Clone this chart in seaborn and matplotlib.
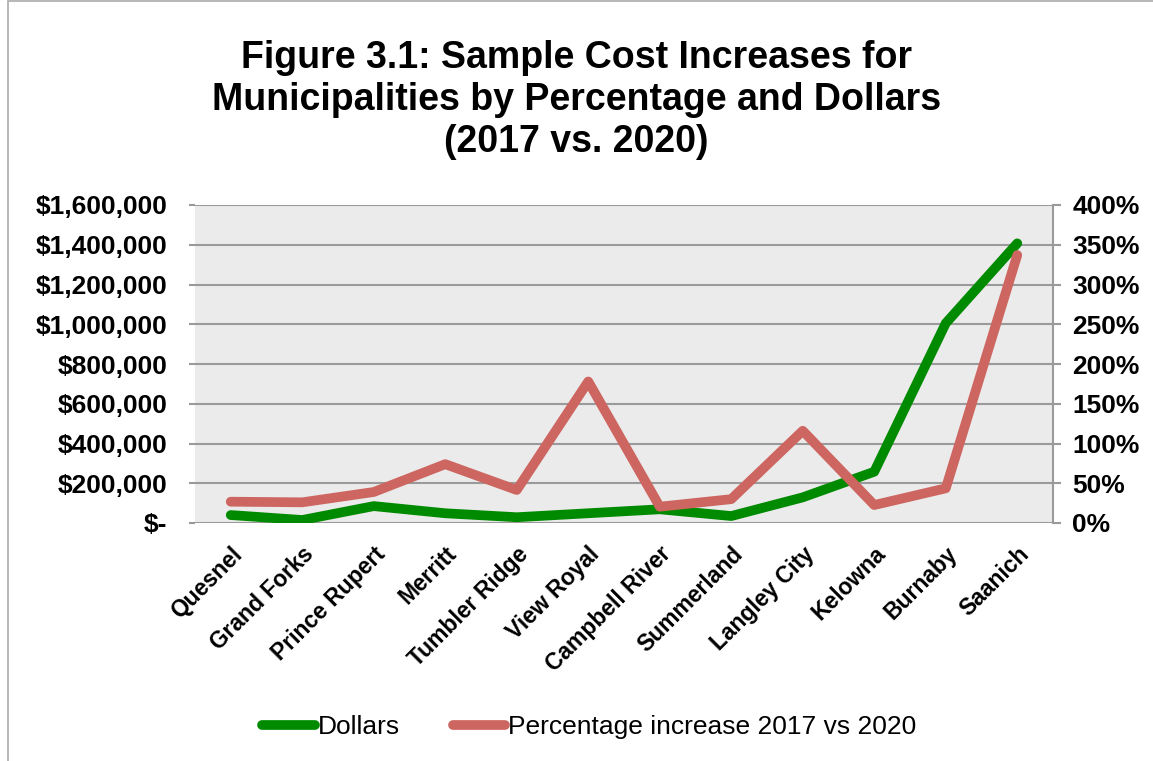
import matplotlib
matplotlib.use("Agg")
import matplotlib.pyplot as plt
import matplotlib.patches as mpatches
import seaborn as sns
import pandas as pd
from matplotlib.ticker import FuncFormatter, MultipleLocator

# -----------------------------
# Data
# -----------------------------
municipalities = [
    "Quesnel", "Grand Forks", "Prince Rupert", "Merritt", "Tumbler Ridge",
    "View Royal", "Campbell River", "Summerland", "Langley City", "Kelowna",
    "Burnaby", "Saanich",
]
dollars = [40000, 15000, 85000, 49000, 29000, 49000, 69000, 35000,
           129000, 258000, 1005000, 1407000]
pct_increase = [26.8, 26, 39, 74, 41.5, 178, 20.5, 30, 116, 22.6, 43.6, 337]

df = pd.DataFrame({
    "Municipality": municipalities,
    "Dollars": dollars,
    "Percent": pct_increase,
})
df["x"] = range(len(df))

green = "#008A00"
red = "#CD6660"

sns.set_style("white")
plt.rcParams["font.family"] = ["Liberation Sans", "DejaVu Sans"]
plt.rcParams["text.color"] = "black"
plt.rcParams["xtick.color"] = "black"
plt.rcParams["ytick.color"] = "black"

fig = plt.figure(figsize=(11.53, 7.61), dpi=100)
ax = fig.add_axes([195 / 1153, 1 - 523 / 761, 858 / 1153, 318 / 761])
ax2 = ax.twinx()

# -----------------------------
# Lines
# -----------------------------
sns.lineplot(data=df, x="x", y="Dollars", ax=ax, color=green,
             linewidth=7, solid_capstyle="round", legend=False)
sns.lineplot(data=df, x="x", y="Percent", ax=ax2, color=red,
             linewidth=7, solid_capstyle="round", legend=False)

ax.set_facecolor("#EBEBEB")
ax.set_xlim(-0.5, len(df) - 0.5)
ax.set_ylim(0, 1600000)
ax2.set_ylim(0, 400)
ax.yaxis.set_major_locator(MultipleLocator(200000))
ax2.yaxis.set_major_locator(MultipleLocator(50))

ax.grid(axis="y", color="#9A9A9A", linewidth=1.5)
ax.set_axisbelow(True)


def dollar_fmt(v, pos):
    if v == 0:
        return "$-"
    return "${:,.0f}".format(v)


ax.yaxis.set_major_formatter(FuncFormatter(dollar_fmt))
ax2.yaxis.set_major_formatter(FuncFormatter(lambda v, p: "{:.0f}%".format(v)))

ax.set_xticks(df["x"])
ax.set_xticklabels(municipalities, rotation=45, ha="right",
                   rotation_mode="anchor", fontsize=16.5, fontweight="bold")
ax.tick_params(axis="x", length=0, pad=14)
ax.tick_params(axis="y", labelsize=19, length=4, width=1.5,
               color="#9A9A9A", pad=16, direction="out")
ax2.tick_params(axis="y", labelsize=19, length=6, width=1.5,
                color="#9A9A9A", pad=8, direction="out")
for lbl in ax.get_yticklabels() + ax2.get_yticklabels():
    lbl.set_fontweight("bold")

ax.set_xlabel("")
ax.set_ylabel("")
ax2.set_ylabel("")

for a in (ax, ax2):
    for s in a.spines.values():
        s.set_visible(False)
ax2.spines["right"].set_visible(True)
ax2.spines["right"].set_color("#9A9A9A")
ax2.spines["right"].set_linewidth(1.5)

# -----------------------------
# Title
# -----------------------------
fig.text(0.5, 1 - 100 / 761,
         "Figure 3.1: Sample Cost Increases for\n"
         "Municipalities by Percentage and Dollars\n(2017 vs. 2020)",
         ha="center", va="center", fontsize=27, fontweight="bold",
         linespacing=1.2)

# -----------------------------
# Legend
# -----------------------------
handles = [
    plt.Line2D([], [], color=green, linewidth=7, solid_capstyle="round"),
    plt.Line2D([], [], color=red, linewidth=7, solid_capstyle="round"),
]
fig.legend(handles, ["Dollars", "Percentage increase 2017 vs 2020"],
           loc="center", bbox_to_anchor=(0.511, 1 - 727 / 761), ncol=2,
           frameon=False, fontsize=19, handlelength=2.0, handletextpad=0.1,
           columnspacing=2.0)

# -----------------------------
# Outer border
# -----------------------------
fig.add_artist(mpatches.Rectangle((8 / 1153, -0.01), 1.2, 1.0 - 1 / 761 + 0.01,
                                  transform=fig.transFigure, fill=False,
                                  edgecolor="#AAAAAA", linewidth=1.2))

fig.savefig("out.png", dpi=100)
